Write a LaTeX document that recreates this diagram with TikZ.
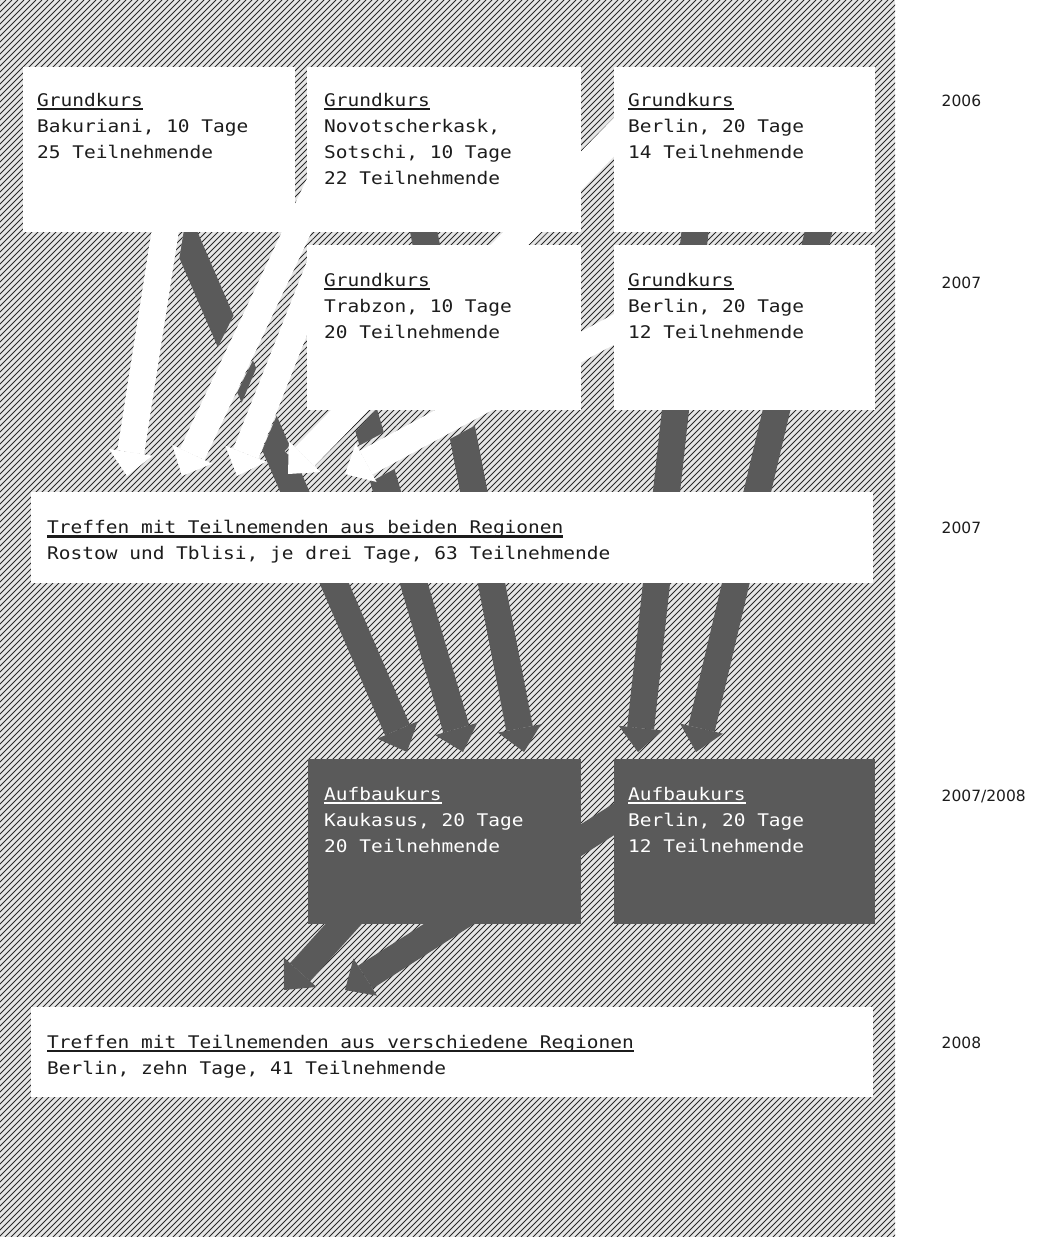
\documentclass[tikz,border=0pt]{standalone}
\usepackage{fontspec}
\setmainfont{DejaVu Sans}
\newfontfamily\panelfont{DejaVu Sans Mono}[FakeStretch=1.12]
\usetikzlibrary{arrows.meta,calc}
\pgfdeclarelayer{hatching}
\pgfdeclarelayer{flows}
\pgfsetlayers{hatching,flows,main}
\definecolor{ink}{HTML}{1C1C1C}
\definecolor{slate}{HTML}{5A5A5A}
\definecolor{hatchbg}{HTML}{E6E6E6}
\definecolor{hatchline}{HTML}{2A2A2A}
% underlined heading word
\newcommand\ulword[1]{\setbox0=\hbox{#1}\rlap{\rule[-4pt]{\wd0}{2.6pt}}\box0}
% diagonal hatching over the current clip
\newcommand\hatchfill{%
  \fill[hatchbg] (0,0) rectangle (895,1237);
  \foreach \c in {0,6,...,2136}
    \draw[hatchline, line width=1pt] (\c,0) -- ({\c-1237},1237);
}
% hatched margin around a light flow
\newcommand\halo[2]{%
  \begin{scope}
    \path (#1) coordinate (hs) (#2) coordinate (he);
    \clip ($(hs)!18.5pt!90:(he)$) -- ($(he)!18.5pt!-90:(hs)$)
      -- ($(he)!18.5pt!90:(hs)$) -- ($(hs)!18.5pt!-90:(he)$) -- cycle;
    \hatchfill
  \end{scope}
}
\tikzset{
  panel/.style={fill=white, inner sep=0pt, anchor=north west},
  darkpanel/.style={fill=slate, inner sep=0pt, anchor=north west},
  boxtext/.style={font=\panelfont\fontsize{17.4}{26}\selectfont, align=left, anchor=north west, inner sep=0pt, text=ink},
  darktext/.style={boxtext, text=white},
  yeartext/.style={font=\fontsize{15.5}{18}\selectfont, anchor=base west, inner sep=0pt, text=ink},
  darkflow/.style={draw=slate, line width=27pt, -{Triangle[width=44pt,length=24pt,line width=0pt]}},
  lightflow/.style={draw=white, line width=27pt, -{Triangle[width=44pt,length=24pt,line width=0pt]}},
}
\begin{document}
\begin{tikzpicture}[x=1pt,y=-1pt]
\useasboundingbox (0,0) rectangle (1047,1237);

% course panels
\node[panel, minimum width=272pt, minimum height=165pt] (bakuriani) at (23,67) {};
\node[panel, minimum width=274pt, minimum height=165pt] (novo) at (307,67) {};
\node[panel, minimum width=261pt, minimum height=165pt] (berlinA) at (614,67) {};
\node[panel, minimum width=274pt, minimum height=165pt] (trabzon) at (307,245) {};
\node[panel, minimum width=261pt, minimum height=165pt] (berlinB) at (614,245) {};
\node[panel, minimum width=842pt, minimum height=91pt] (meetA) at (31,492) {};
\node[darkpanel, minimum width=273pt, minimum height=165pt] (kaukasus) at (308,759) {};
\node[darkpanel, minimum width=261pt, minimum height=165pt] (berlinC) at (614,759) {};
\node[panel, minimum width=842pt, minimum height=90pt] (meetB) at (31,1007) {};

% panel texts
\node[boxtext] (bakuriani-t) at ([shift={(14,25.8)}]bakuriani.north west)
  {\ulword{Grundkurs}\\Bakuriani, 10 Tage\\25 Teilnehmende};
\node[boxtext] (novo-t) at ([shift={(17,25.8)}]novo.north west)
  {\ulword{Grundkurs}\\Novotscherkask,\\Sotschi, 10 Tage\\22 Teilnehmende};
\node[boxtext] (berlinA-t) at ([shift={(14,25.8)}]berlinA.north west)
  {\ulword{Grundkurs}\\Berlin, 20 Tage\\14 Teilnehmende};
\node[boxtext] (trabzon-t) at ([shift={(17,27.8)}]trabzon.north west)
  {\ulword{Grundkurs}\\Trabzon, 10 Tage\\20 Teilnehmende};
\node[boxtext] (berlinB-t) at ([shift={(14,27.8)}]berlinB.north west)
  {\ulword{Grundkurs}\\Berlin, 20 Tage\\12 Teilnehmende};
\node[boxtext] (meetA-t) at ([shift={(16,28)}]meetA.north west)
  {\ulword{Treffen mit Teilnemenden aus beiden Regionen}\\Rostow und Tblisi, je drei Tage, 63 Teilnehmende};
\node[darktext] (kaukasus-t) at ([shift={(16,27.8)}]kaukasus.north west)
  {\ulword{Aufbaukurs}\\Kaukasus, 20 Tage\\20 Teilnehmende};
\node[darktext] (berlinC-t) at ([shift={(14,27.8)}]berlinC.north west)
  {\ulword{Aufbaukurs}\\Berlin, 20 Tage\\12 Teilnehmende};
\node[boxtext] (meetB-t) at ([shift={(16,27.8)}]meetB.north west)
  {\ulword{Treffen mit Teilnemenden aus verschiedene Regionen}\\Berlin, zehn Tage, 41 Teilnehmende};

% year column
\node[yeartext] (year1) at (941.5,106) {2006};
\node[yeartext] (year2) at (941.5,288) {2007};
\node[yeartext] (year3) at (941.5,533) {2007};
\node[yeartext] (year4) at (941.5,801) {2007/2008};
\node[yeartext] (year5) at (941.5,1048) {2008};

% hatched ground
\begin{pgfonlayer}{hatching}
  \fill[white] (0,0) rectangle (1047,1237);
  \begin{scope}
    \clip (0,0) rectangle (895,1237);
    \hatchfill
  \end{scope}
\end{pgfonlayer}

\begin{pgfonlayer}{flows}
  % into the advanced courses
  \draw[darkflow] ([shift={(157,-7)}]bakuriani.south west) -- ([shift={(99,-7)}]kaukasus.north west);
  \draw[darkflow] ([shift={(33,-80)}]trabzon.south west) -- ([shift={(155,-7)}]kaukasus.north west);
  \draw[darkflow] ([shift={(103,-72)}]novo.south west) -- ([shift={(216,-7)}]kaukasus.north west);
  \draw[darkflow] ([shift={(91,-92)}]berlinA.south west) -- ([shift={(24,-7)}]berlinC.north west);
  \draw[darkflow] ([shift={(226,-92)}]berlinA.south west) -- ([shift={(82,-7)}]berlinC.north west);
  % into the second meeting
  \draw[darkflow] ([shift={(57,-24)}]kaukasus.south west) -- ([shift={(253,-17)}]meetB.north west);
  \draw[darkflow] ([shift={(46,31)}]berlinC.north west) -- ([shift={(314,-17)}]meetB.north west);
  % margins of the light flows
  \halo{[shift={(147,-32)}]bakuriani.south west}{[shift={(96,-30)}]meetA.north west}
  \halo{[shift={(14,-52)}]novo.south west}{[shift={(151,-30)}]meetA.north west}
  \halo{[shift={(15,15)}]trabzon.north west}{[shift={(206,-30)}]meetA.north west}
  \halo{[shift={(26,43)}]berlinA.north west}{[shift={(267,-28)}]meetA.north west}
  \halo{[shift={(36,65)}]berlinB.north west}{[shift={(326,-24)}]meetA.north west}
  % into the first meeting
  \draw[lightflow] ([shift={(147,-32)}]bakuriani.south west) -- ([shift={(96,-16)}]meetA.north west);
  \draw[lightflow] ([shift={(14,-52)}]novo.south west) -- ([shift={(151,-16)}]meetA.north west);
  \draw[lightflow] ([shift={(15,15)}]trabzon.north west) -- ([shift={(206,-16)}]meetA.north west);
  \draw[lightflow] ([shift={(26,43)}]berlinA.north west) -- ([shift={(257,-18)}]meetA.north west);
  \draw[lightflow] ([shift={(36,65)}]berlinB.north west) -- ([shift={(314,-18)}]meetA.north west);
\end{pgfonlayer}
\end{tikzpicture}
\end{document}
